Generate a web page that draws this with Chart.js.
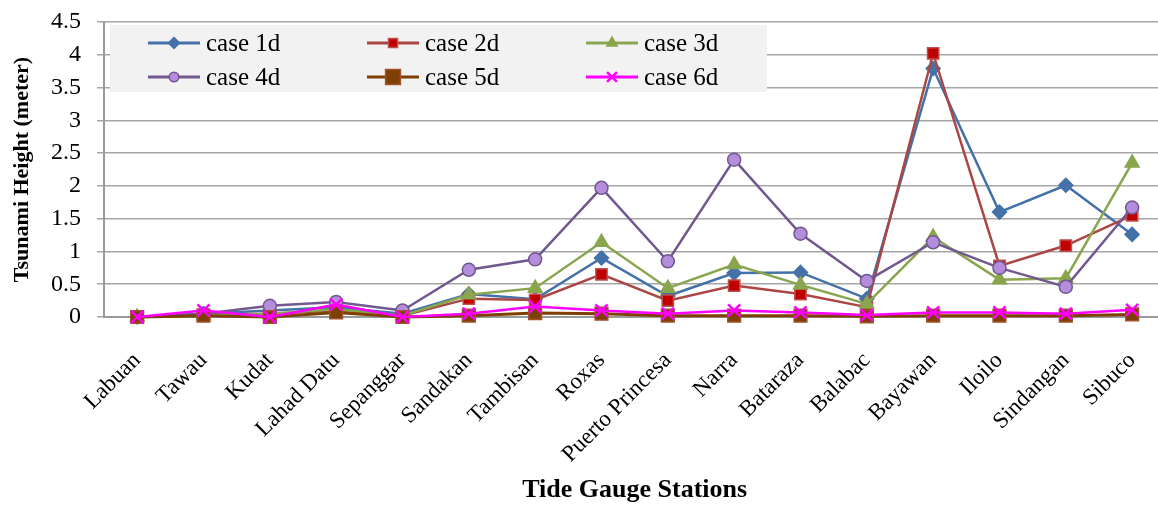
<!DOCTYPE html>
<html>
<head>
<meta charset="utf-8">
<script src="https://cdn.jsdelivr.net/npm/chart.js@4.4.1/dist/chart.umd.min.js"></script>
<style>
  html, body { margin: 0; padding: 0; background: #ffffff; overflow: hidden; }
  #wrap { width: 1158px; height: 506px; overflow: hidden; }
  #chart { display: block; }
</style>
</head>
<body>
<div id="wrap"><canvas id="chart" width="1182" height="506"></canvas></div>
<script>
// Tide gauge stations along the x axis
const stations = ["Labuan", "Tawau", "Kudat", "Lahad Datu", "Sepanggar", "Sandakan", "Tambisan", "Roxas",
  "Puerto Princesa", "Narra", "Bataraza", "Balabac", "Bayawan", "Iloilo", "Sindangan", "Sibuco"];

// Tsunami heights (m) for each scenario
const case1d = [0.00, 0.05, 0.10, 0.15, 0.05, 0.35, 0.27, 0.90, 0.32, 0.67, 0.68, 0.28, 3.79, 1.60, 2.01, 1.26];
const case2d = [0.00, 0.03, 0.05, 0.10, 0.02, 0.28, 0.26, 0.65, 0.25, 0.48, 0.35, 0.15, 4.02, 0.78, 1.09, 1.55];
const case3d = [0.00, 0.02, 0.05, 0.12, 0.02, 0.34, 0.44, 1.14, 0.44, 0.80, 0.49, 0.20, 1.22, 0.57, 0.59, 2.35];
const case4d = [0.00, 0.05, 0.17, 0.23, 0.10, 0.72, 0.88, 1.97, 0.85, 2.40, 1.27, 0.55, 1.14, 0.75, 0.46, 1.67];
const case5d = [0.00, 0.02, 0.00, 0.07, 0.00, 0.02, 0.06, 0.05, 0.02, 0.02, 0.02, 0.01, 0.02, 0.02, 0.02, 0.04];
const case6d = [0.00, 0.10, 0.00, 0.19, 0.00, 0.05, 0.16, 0.10, 0.05, 0.10, 0.07, 0.03, 0.07, 0.07, 0.05, 0.11];

const yTicks = [0, 0.5, 1, 1.5, 2, 2.5, 3, 3.5, 4, 4.5];

const SERIF = "'Liberation Serif', 'Times New Roman', serif";

const seriesDefs = [
  { label: "case 1d", data: case1d, line: "#4472A8", fill: "#4472A8", edge: "#4472A8", style: "rectRot", r: 7, lr: 5.5, lw: 2.5 },
  { label: "case 2d", data: case2d, line: "#AA4643", fill: "#C00000", edge: "#C0504D", style: "rect", r: 8, lr: 6.4, lw: 2.5 },
  { label: "case 3d", data: case3d, line: "#89A54E", fill: "#89A54E", edge: "#89A54E", style: "triangle", r: 8, lr: 6, lw: 2.5 },
  { label: "case 4d", data: case4d, line: "#71588F", fill: "#B48EDC", edge: "#71588F", style: "circle", r: 6.5, lr: 4.8, lw: 2.5 },
  { label: "case 5d", data: case5d, line: "#7F3F00", fill: "#7F3F00", edge: "#A0522D", style: "rect", r: 9, lr: 10.5, lw: 3 },
  { label: "case 6d", data: case6d, line: "#FF00FF", fill: "#FF00FF", edge: "#FF00FF", style: "crossRot", r: 8.5, lr: 7, lw: 2.5 }
];

const datasets = seriesDefs.map((s, i) => ({
  label: s.label,
  data: s.data,
  borderColor: s.line,
  borderWidth: s.lw,
  backgroundColor: s.fill,
  pointStyle: s.style,
  pointRadius: s.r,
  pointHoverRadius: s.r,
  pointBackgroundColor: s.fill,
  pointBorderColor: s.style === "crossRot" ? s.line : s.edge,
  pointBorderWidth: s.style === "crossRot" ? 2.5 : 1.5,
  tension: 0,
  clip: false,
  order: seriesDefs.length - i
}));

// Legend panel drawn inside the plot, two rows by three columns
const panelLegend = {
  id: "panelLegend",
  afterDatasetsDraw(chart) {
    const ctx = chart.ctx;
    const box = { x: 110, y: 25, w: 657, h: 67 };
    ctx.save();
    ctx.fillStyle = "#F2F2F2";
    ctx.fillRect(box.x, box.y, box.w, box.h);
    const cols = [148, 367, 586];
    const rows = [43, 77];
    ctx.font = "25px " + SERIF;
    ctx.textBaseline = "middle";
    ctx.textAlign = "left";
    seriesDefs.forEach((s, i) => {
      const x0 = cols[i % 3];
      const y0 = rows[Math.floor(i / 3)];
      ctx.strokeStyle = s.line;
      ctx.lineWidth = 3;
      ctx.beginPath();
      ctx.moveTo(x0, y0);
      ctx.lineTo(x0 + 52, y0);
      ctx.stroke();
      ctx.fillStyle = s.fill;
      ctx.strokeStyle = s.style === "crossRot" ? s.line : s.edge;
      ctx.lineWidth = s.style === "crossRot" ? 2.5 : 1.5;
      Chart.helpers.drawPoint(ctx, { pointStyle: s.style, radius: s.lr, rotation: 0, borderWidth: ctx.lineWidth }, x0 + 26, y0);
      ctx.fillStyle = "#000000";
      ctx.fillText(s.label, x0 + 58, y0 + 1);
    });
    ctx.restore();
  }
};

new Chart(document.getElementById("chart"), {
  type: "line",
  data: { labels: stations, datasets },
  options: {
    responsive: false,
    animation: false,
    layout: { padding: { top: 22, right: 0, left: 9, bottom: 0 } },
    plugins: {
      legend: { display: false },
      tooltip: { enabled: false }
    },
    scales: {
      x: {
        offset: true,
        afterFit(scale) { scale.height = 189; },
        grid: { display: false, drawTicks: false },
        border: { display: true, color: "#9A9A9A", width: 2 },
        ticks: {
          color: "#000000",
          font: { family: SERIF, size: 23 },
          maxRotation: 45,
          minRotation: 45,
          autoSkip: false,
          padding: 30
        },
        title: {
          display: true,
          text: "Tide Gauge Stations",
          color: "#000000",
          font: { family: SERIF, size: 26, weight: "bold" },
          padding: { top: 0, bottom: 0 }
        }
      },
      y: {
        min: 0,
        max: 4.5,
        afterFit(scale) { scale.width = 95; scale.paddingTop = 0; },
        afterBuildTicks(scale) { scale.ticks = yTicks.map(v => ({ value: v })); },
        grid: { color: "#A6A6A6", lineWidth: 1.5, tickLength: 7, drawTicks: true },
        border: { display: true, color: "#9A9A9A", width: 2 },
        ticks: {
          color: "#000000",
          font: { family: SERIF, size: 24 },
          padding: 16,
          autoSkip: false,
          callback: v => String(v)
        },
        title: {
          display: true,
          text: "Tsunami Height (meter)",
          color: "#000000",
          font: { family: SERIF, size: 22, weight: "bold" },
          padding: { top: 0, bottom: 0 }
        }
      }
    }
  },
  plugins: [panelLegend]
});
</script>
</body>
</html>
